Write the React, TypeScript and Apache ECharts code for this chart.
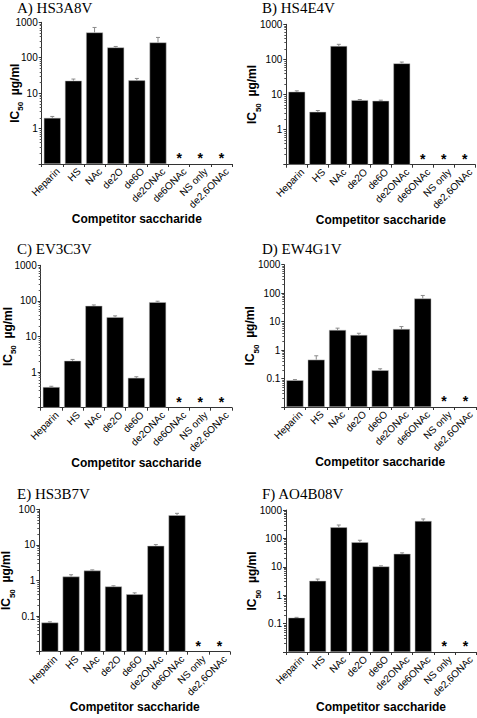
import React, { useEffect, useRef } from "react";
import * as echarts from "echarts";

// ---------- data ----------
const categories = ["Heparin", "HS", "NAc", "de2O", "de6O", "de2ONAc", "de6ONAc", "NS only", "de2,6ONAc"];
const panelTitles = ["A) HS3A8V", "B) HS4E4V", "C) EV3C3V", "D) EW4G1V", "E) HS3B7V", "F) AO4B08V"];

const valuesA = [2, 22.5, 517, 195, 23, 270, null, null, null];
const upperA = [2.2, 25, 715, 208, 26, 374, null, null, null];
const starsA = ["de6ONAc", "NS only", "de2,6ONAc"];

const valuesB = [12, 3.2, 240, 6.9, 6.6, 77, null, null, null];
const upperB = [12.7, 3.5, 269, 7.2, 6.9, 84, null, null, null];
const starsB = ["de6ONAc", "NS only", "de2,6ONAc"];

const valuesC = [0.38, 2.08, 72.5, 35, 0.69, 92, null, null, null];
const upperC = [0.4, 2.27, 77, 38, 0.74, 98, null, null, null];
const starsC = ["de6ONAc", "NS only", "de2,6ONAc"];

const valuesD = [0.087, 0.46, 5.1, 3.4, 0.195, 5.5, 65, null, null];
const upperD = [0.092, 0.63, 5.9, 3.9, 0.22, 6.7, 83, null, null];
const starsD = ["NS only", "de2,6ONAc"];

const valuesE = [0.066, 1.29, 1.9, 0.68, 0.41, 9.4, 68, null, null];
const upperE = [0.069, 1.45, 1.99, 0.71, 0.45, 10.2, 77, null, null];
const starsE = ["NS only", "de2,6ONAc"];

const valuesF = [0.162, 3.2, 246, 73, 10.3, 28.6, 411, null, null];
const upperF = [0.166, 3.7, 296, 86, 10.8, 31, 483, null, null];
const starsF = ["NS only", "de2,6ONAc"];

const yMins = [0.1, 0.1, 0.1, 0.01, 0.01, 0.01];
const yMaxs = [1000, 1000, 1000, 1000, 100, 1000];

const xAxisName = "Competitor saccharide";

// ---------- layout ----------
const grids = [
  { left: 41.7, top: 22.3, width: 190.3, height: 141.7 },
  { left: 286.3, top: 24.3, width: 189, height: 140.4 },
  { left: 40.7, top: 265.3, width: 191.3, height: 142.4 },
  { left: 284.3, top: 264.7, width: 191.7, height: 142.3 },
  { left: 39.3, top: 509.3, width: 190.7, height: 142.4 },
  { left: 286, top: 510, width: 190, height: 142 },
];
const titlePos = [
  { left: 17, top: 0 },
  { left: 262, top: 0 },
  { left: 17, top: 241 },
  { left: 262, top: 241 },
  { left: 17, top: 486 },
  { left: 262, top: 486 },
];
const yNameGaps = [20, 27, 26, 27, 26, 27];

const SANS = "Liberation Sans, Arial, sans-serif";
const SERIF = "Liberation Serif, Times New Roman, serif";

const panels = [
  { values: valuesA, upper: upperA, stars: starsA },
  { values: valuesB, upper: upperB, stars: starsB },
  { values: valuesC, upper: upperC, stars: starsC },
  { values: valuesD, upper: upperD, stars: starsD },
  { values: valuesE, upper: upperE, stars: starsE },
  { values: valuesF, upper: upperF, stars: starsF },
];

function fmt(v: number) {
  return String(Number(v.toPrecision(4)));
}

function buildOption() {
  const title: any[] = [];
  const grid: any[] = [];
  const xAxis: any[] = [];
  const yAxis: any[] = [];
  const series: any[] = [];

  panels.forEach((p, i) => {
    title.push({
      text: panelTitles[i],
      left: titlePos[i].left,
      top: titlePos[i].top,
      padding: 0,
      textStyle: { fontFamily: SERIF, fontSize: 15, fontWeight: "normal", color: "#000" },
    });
    grid.push({ ...grids[i], containLabel: false, outerBoundsMode: "none" });
    xAxis.push({
      type: "category",
      gridIndex: i,
      data: categories,
      boundaryGap: true,
      name: xAxisName,
      nameLocation: "middle",
      nameGap: 49,
      nameMoveOverlap: false,
      nameTextStyle: { fontFamily: SANS, fontSize: 12, fontWeight: "bold", color: "#000" },
      axisLine: { lineStyle: { color: "#333", width: 1 } },
      axisTick: { show: true, length: 3, alignWithLabel: false, lineStyle: { color: "#333" } },
      axisLabel: {
        interval: 0,
        rotate: 45,
        margin: 0,
        verticalAlign: "top",
        lineHeight: 16,
        fontFamily: SANS,
        fontSize: 10,
        color: "#000",
      },
      splitLine: { show: false },
    });
    yAxis.push({
      type: "log",
      logBase: 10,
      gridIndex: i,
      min: yMins[i],
      max: yMaxs[i],
      startValue: yMins[i],
      name: "{a|IC}{s|50}{a|  µg/ml}",
      nameLocation: "middle",
      nameRotate: 90,
      nameGap: yNameGaps[i],
      nameMoveOverlap: false,
      nameTextStyle: {
        rich: {
          a: { fontFamily: SANS, fontSize: 12, fontWeight: "bold", color: "#000", lineHeight: 14 },
          s: { fontFamily: SANS, fontSize: 8, fontWeight: "bold", color: "#000", verticalAlign: "bottom", lineHeight: 10, padding: [0, 0, -3, 0] },
        },
      },
      axisLine: { show: true, lineStyle: { color: "#333", width: 1 } },
      axisTick: { show: true, length: 3, lineStyle: { color: "#333" } },
      minorTick: { show: true, splitNumber: 9, length: 2, lineStyle: { color: "#555" } },
      axisLabel: {
        showMinLabel: false,
        margin: 4,
        fontFamily: SANS,
        fontSize: 10,
        color: "#000",
        formatter: (v: number) => fmt(v),
      },
      splitLine: { show: false },
      minorSplitLine: { show: false },
    });

    series.push({
      type: "bar",
      xAxisIndex: i,
      yAxisIndex: i,
      data: p.values.map((v) => (v == null ? "-" : v)),
      barWidth: "80%",
      itemStyle: { color: "#000", borderColor: "#bbb", borderWidth: 0.5 },
      silent: true,
    });

    series.push({
      type: "custom",
      xAxisIndex: i,
      yAxisIndex: i,
      silent: true,
      encode: { x: 0, y: 1 },
      data: p.values
        .map((v, k) => (v == null || p.upper[k] == null ? null : [k, v, p.upper[k]]))
        .filter((d) => d != null),
      renderItem: (params: any, api: any) => {
        const k = api.value(0);
        const v = api.value(1);
        const up = api.value(2);
        const p0 = api.coord([k, v]);
        const p1 = api.coord([k, up]);
        const hw = 2;
        const st = { stroke: "#8a8a8a", lineWidth: 1 };
        return {
          type: "group",
          children: [
            { type: "line", shape: { x1: p0[0], y1: p0[1], x2: p1[0], y2: p1[1] }, style: st },
            { type: "line", shape: { x1: p1[0] - hw, y1: p1[1], x2: p1[0] + hw, y2: p1[1] }, style: st },
          ],
        };
      },
      z: 3,
    });

    series.push({
      type: "custom",
      xAxisIndex: i,
      yAxisIndex: i,
      silent: true,
      encode: { x: 0, y: 1 },
      data: p.stars.map((c) => [categories.indexOf(c), yMins[i]]),
      renderItem: (params: any, api: any) => {
        const pt = api.coord([api.value(0), api.value(1)]);
        return {
          type: "text",
          x: pt[0],
          y: pt[1] - 6,
          style: {
            text: "*",
            fontFamily: SANS,
            fontSize: 14,
            fontWeight: "bold",
            fill: "#000",
            align: "center",
            verticalAlign: "middle",
          },
        };
      },
      z: 3,
    });
  });

  return {
    animation: false,
    backgroundColor: "#fff",
    title,
    grid,
    xAxis,
    yAxis,
    series,
  };
}

export default function App() {
  const ref = useRef<HTMLDivElement>(null);
  useEffect(() => {
    if (!ref.current) return;
    const chart = echarts.init(ref.current, undefined, { renderer: "svg" });
    chart.setOption(buildOption() as any);
    return () => chart.dispose();
  }, []);
  return (
    <div
      ref={ref}
      style={{ position: "absolute", left: 0, top: 0, width: 477, height: 718, background: "#fff" }}
    />
  );
}
